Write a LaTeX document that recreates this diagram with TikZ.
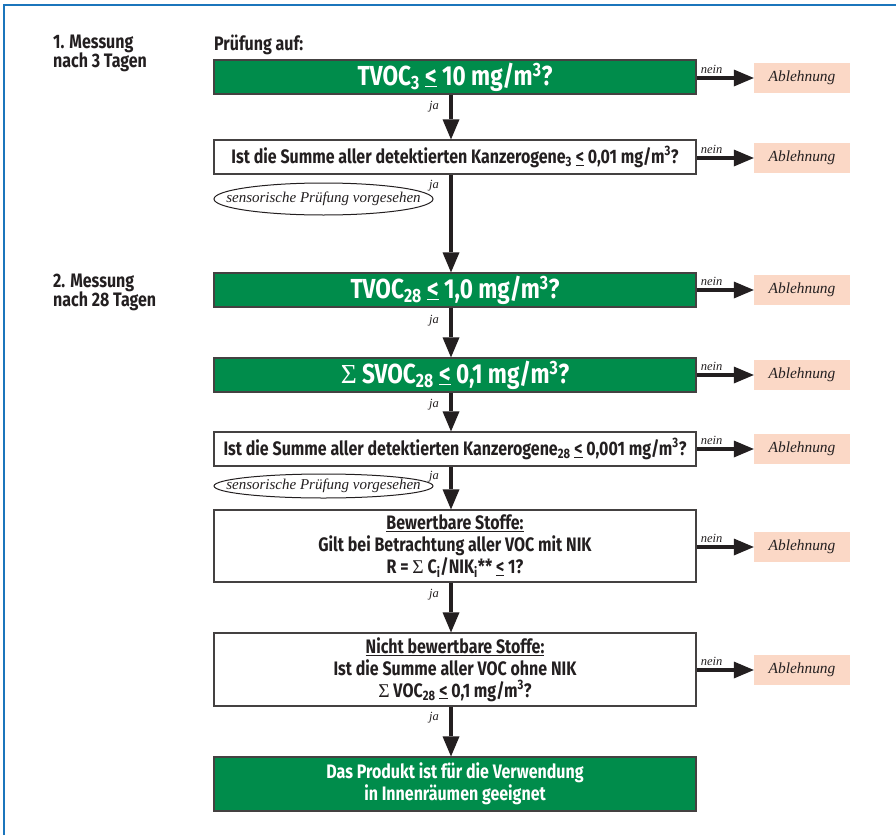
\documentclass[tikz,border=0pt]{standalone}
\usepackage{fontspec}
\setmainfont{Fira Sans}[FakeStretch=0.82]
\newfontfamily\itf{Liberation Serif}
\usetikzlibrary{arrows.meta,shapes.geometric}
\definecolor{grn}{RGB}{0,140,75}
\definecolor{abl}{RGB}{251,216,198}
\definecolor{framecol}{RGB}{27,117,188}
\definecolor{ink}{RGB}{35,31,32}
\newcommand{\myle}{\underline{<}}
\newcommand{\sig}{{\itf\mdseries Σ}}
\tikzset{
  box/.style={draw=ink!85, line width=1.2pt, minimum width=482pt, inner sep=0pt,
    align=center, text=ink, font=\bfseries\fontsize{19.5}{22}\selectfont},
  gbox/.style={box, fill=grn, text=white},
  bigtxt/.style={font=\bfseries\fontsize{27.5}{30}\selectfont},
  abox/.style={fill=abl, minimum width=96pt, minimum height=30pt, inner sep=0pt,
    font=\itf\itshape\fontsize{15.4}{17}\selectfont, text=ink},
  flow/.style={line width=4pt, draw=ink, -{Triangle[length=20pt,width=17pt,line width=0pt]}},
  lab/.style={font=\itf\itshape\fontsize{12.5}{14}\selectfont, text=ink, inner sep=0pt},
  oval/.style={ellipse, draw=ink, line width=1pt, minimum width=219pt, inner sep=0pt},
  ovaltxt/.style={font=\itf\itshape\fontsize{15}{17}\selectfont, text=ink, inner sep=0pt},
  side/.style={font=\bfseries\fontsize{19.5}{17}\selectfont, text=ink, align=left, anchor=north west, inner sep=0pt}
}
\begin{document}
\begin{tikzpicture}[x=1pt,y=-1pt]
\useasboundingbox (0,0) rectangle (896,835);
\draw[framecol, line width=2pt] (3.5,835) -- (3.5,5) -- (896,5);
\coordinate (ax) at (451,0);

\node[side] (m1) at (53,35) {1. Messung\\[-1.5pt]nach 3 Tagen};
\node[side] (m2) at (53,274) {2. Messung\\[-1.5pt]nach 28 Tagen};
\node[side] (pa) at (214,35) {Prüfung auf:};

\node[gbox, bigtxt, minimum height=34pt] (b1) at (455,77) {TVOC\textsubscript{3} \myle{} 10 mg/m\textsuperscript{3}?};
\node[box, minimum height=34pt] (b2) at (455,157) {Ist die Summe aller detektierten Kanzerogene\textsubscript{3} \myle{} 0,01 mg/m\textsuperscript{3}?};
\node[oval, minimum height=32pt] (e1) at (323.5,199) {};
\node[ovaltxt] (e1t) at (e1.center) {sensorische Prüfung vorgesehen};
\node[gbox, bigtxt, minimum height=34pt] (b3) at (455,290) {TVOC\textsubscript{28} \myle{} 1,0 mg/m\textsuperscript{3}?};
\node[gbox, bigtxt, minimum height=34pt] (b4) at (455,375) {\sig{} SVOC\textsubscript{28} \myle{} 0,1 mg/m\textsuperscript{3}?};
\node[box, minimum height=34pt] (b5) at (455,449) {Ist die Summe aller detektierten Kanzerogene\textsubscript{28} \myle{} 0,001 mg/m\textsuperscript{3}?};
\node[oval, minimum height=24pt] (e2) at (323.5,486) {};
\node[ovaltxt] (e2t) at (e2.center) {sensorische Prüfung vorgesehen};
\node[box, minimum height=72pt] (b6) at (455,546) {\underline{Bewertbare Stoffe:}\\Gilt bei Betrachtung aller VOC mit NIK\\R = \sig{} C\textsubscript{i}/NIK\textsubscript{i}** \myle{} 1?};
\node[box, minimum height=73pt] (b7) at (455,669.5) {\underline{Nicht bewertbare Stoffe:}\\Ist die Summe aller VOC ohne NIK\\\sig{} VOC\textsubscript{28} \myle{} 0,1 mg/m\textsuperscript{3}?};
\node[gbox, minimum height=54pt] (b8) at (455,784) {Das Produkt ist für die Verwendung\\in Innenräumen geeignet};

\foreach \b/\y in {b1/78,b2/158,b3/290,b4/375,b5/449,b6/547,b7/670}{
  \node[abox] (a\b) at (802,\y) {Ablehnung};
  \draw[flow] (\b.east |- a\b.west) -- (a\b.west);
  \node[lab, anchor=south west] (n\b) at ([xshift=4pt,yshift=4pt]\b.east |- a\b.west) {nein};
}

\draw[flow] (b1.south -| ax) -- (b2.north -| ax);
\draw[flow] (b2.south -| ax) -- (b3.north -| ax);
\draw[flow] (b3.south -| ax) -- (b4.north -| ax);
\draw[flow] (b4.south -| ax) -- (b5.north -| ax);
\draw[flow] (b5.south -| ax) -- (b6.north -| ax);
\draw[flow] (b6.south -| ax) -- (b7.north -| ax);
\draw[flow] (b7.south -| ax) -- (b8.north -| ax);

\node[lab] (j1) at (434,107) {ja};
\node[lab] (j2) at (434,186) {ja};
\node[lab] (j3) at (434,321) {ja};
\node[lab] (j4) at (434,405) {ja};
\node[lab] (j5) at (434,477) {ja};
\node[lab] (j6) at (434,595) {ja};
\node[lab] (j7) at (434,718) {ja};
\end{tikzpicture}
\end{document}
